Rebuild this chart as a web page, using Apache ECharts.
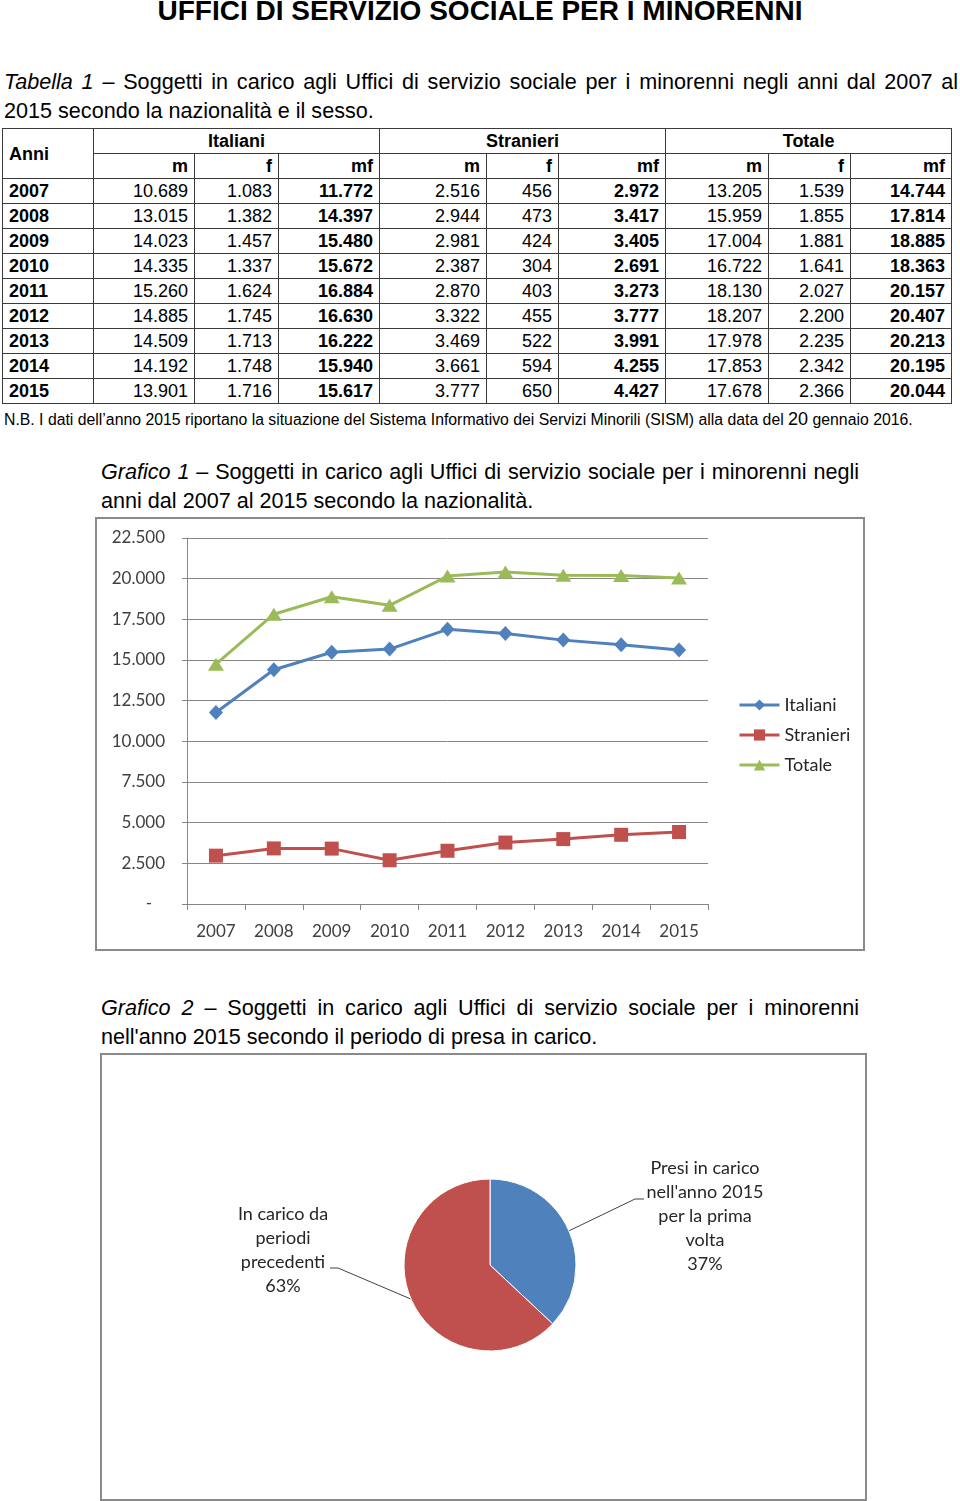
<!DOCTYPE html>
<html>
<head>
<meta charset="utf-8">
<script src="https://cdn.jsdelivr.net/npm/echarts@6/dist/echarts.min.js"></script>
<style>
html,body{margin:0;padding:0;background:#fff;}
#page{position:relative;width:960px;height:1501px;overflow:hidden;font-family:"Liberation Sans",Arial,sans-serif;color:#000;background:#fff;}
.ln{position:absolute;white-space:nowrap;}
.just{white-space:normal;text-align:justify;text-align-last:justify;}
#title{left:0;width:960px;text-align:center;top:-4px;font-size:28px;line-height:30px;font-weight:bold;}
.cap{font-size:21.6px;line-height:24px;}
#tbl{position:absolute;left:2px;top:128px;border-collapse:collapse;table-layout:fixed;width:949px;font-size:18px;}
#tbl td,#tbl th{border:1.5px solid #3a3a3a;height:24px;padding:0 6px;line-height:20px;overflow:hidden;white-space:nowrap;}
#tbl th{font-weight:bold;text-align:right;}
#tbl th.c{text-align:center;}
#tbl th.l{text-align:left;}
#tbl td{text-align:right;}
#tbl td.y{text-align:left;font-weight:bold;}
#tbl td.b{font-weight:bold;}
#nb{left:4px;top:410px;font-size:15.8px;line-height:18px;}
.box{position:absolute;box-sizing:border-box;border:2px solid #8a8a8a;}
#c1{left:95px;top:517px;width:770px;height:434px;}
#c2{left:100px;top:1053px;width:767px;height:448px;}
</style>
</head>
<body>
<div id="page">
  <div class="ln" id="title">UFFICI DI SERVIZIO SOCIALE PER I MINORENNI</div>
  <div class="ln cap just" style="left:4px;top:70px;width:954px;"><i>Tabella 1</i> – Soggetti in carico agli Uffici di servizio sociale per i minorenni negli anni dal 2007 al</div>
  <div class="ln cap" style="left:4px;top:99px;">2015 secondo la nazionalità e il sesso.</div>
  <table id="tbl">
    <colgroup id="cols"></colgroup>
    <thead id="thead"></thead>
    <tbody id="tbody"></tbody>
  </table>
  <div class="ln" id="nb">N.B. I dati dell’anno 2015 riportano la situazione del Sistema Informativo dei Servizi Minorili (SISM) alla data del <span style="font-size:18px">20</span> gennaio 2016.</div>
  <div class="ln cap just" style="left:101px;top:460px;width:758px;"><i>Grafico 1</i> – Soggetti in carico agli Uffici di servizio sociale per i minorenni negli</div>
  <div class="ln cap" style="left:101px;top:489px;">anni dal 2007 al 2015 secondo la nazionalità.</div>
  <div class="box" id="c1"></div>
  <div class="ln cap just" style="left:101px;top:996px;width:758px;"><i>Grafico 2</i> – Soggetti in carico agli Uffici di servizio sociale per i minorenni</div>
  <div class="ln cap" style="left:101px;top:1025px;">nell'anno 2015 secondo il periodo di presa in carico.</div>
  <div class="box" id="c2"></div>
</div>
<script>
// ---------- DATA ----------
const years = ['2007','2008','2009','2010','2011','2012','2013','2014','2015'];
const italianiM  = [10689,13015,14023,14335,15260,14885,14509,14192,13901];
const italianiF  = [1083,1382,1457,1337,1624,1745,1713,1748,1716];
const italianiMF = [11772,14397,15480,15672,16884,16630,16222,15940,15617];
const stranieriM  = [2516,2944,2981,2387,2870,3322,3469,3661,3777];
const stranieriF  = [456,473,424,304,403,455,522,594,650];
const stranieriMF = [2972,3417,3405,2691,3273,3777,3991,4255,4427];
const totaleM  = [13205,15959,17004,16722,18130,18207,17978,17853,17678];
const totaleF  = [1539,1855,1881,1641,2027,2200,2235,2342,2366];
const totaleMF = [14744,17814,18885,18363,20157,20407,20213,20195,20044];
const groupNames = ['Italiani','Stranieri','Totale'];
const subNames = ['m','f','mf'];
const pieNames = ["Presi in carico\nnell'anno 2015\nper la prima\nvolta", "In carico da\nperiodi\nprecedenti"];
const pieValues = [37, 63];

// ---------- TABLE ----------
function fmt(n){ return String(n).replace(/\B(?=(\d{3})+(?!\d))/g, '.'); }
const colWidths = [91,101,84,101,107,72,107,103,82,101];
document.getElementById('cols').innerHTML = colWidths.map(w => '<col style="width:'+w+'px">').join('');
let h = '<tr><th class="l" rowspan="2">Anni</th>' + groupNames.map(g => '<th class="c" colspan="3">'+g+'</th>').join('') + '</tr>';
h += '<tr>' + groupNames.map(() => subNames.map(s => '<th>'+s+'</th>').join('')).join('') + '</tr>';
document.getElementById('thead').innerHTML = h;
const cols = [italianiM,italianiF,italianiMF,stranieriM,stranieriF,stranieriMF,totaleM,totaleF,totaleMF];
let b = '';
years.forEach((y,i) => {
  b += '<tr><td class="y">'+y+'</td>';
  cols.forEach((c,j) => { b += '<td'+(j%3===2?' class="b"':'')+'>'+fmt(c[i])+'</td>'; });
  b += '</tr>';
});
document.getElementById('tbody').innerHTML = b;

// ---------- CHART 1 ----------
const FONT = 'Lato';
const AX = '#868686';
const c1 = echarts.init(document.getElementById('c1'));
c1.setOption({
  animation:false,
  color:['#4F81BD','#C0504D','#9BBB59'],
  grid:{left:90, right:155, top:19, bottom:45, containLabel:false},
  legend:{
    orient:'vertical', left:636, top:172, itemGap:12, itemWidth:40, itemHeight:14,
    lineStyle:{width:3},
    textStyle:{fontFamily:FONT, fontSize:18, color:'#262626'},
    data:groupNames
  },
  xAxis:{
    type:'category', data:years, boundaryGap:true,
    axisLine:{lineStyle:{color:AX, width:1}},
    axisTick:{show:true, length:6, lineStyle:{color:AX}},
    axisLabel:{fontFamily:FONT, fontSize:17, color:'#404040', margin:19}
  },
  yAxis:{
    type:'value', min:0, max:22500, interval:2500,
    axisLine:{show:true, lineStyle:{color:AX, width:1}},
    axisTick:{show:true, length:5, lineStyle:{color:AX}},
    splitLine:{lineStyle:{color:AX, width:1}},
    axisLabel:{fontFamily:FONT, fontSize:17, color:'#404040', margin:22,
      formatter: v => v === 0 ? '-   ' : fmt(v)}
  },
  series:[
    {name:'Italiani', type:'line', data:italianiMF, symbol:'diamond', symbolSize:[14,15], lineStyle:{width:3}, itemStyle:{color:'#4F81BD'}},
    {name:'Stranieri', type:'line', data:stranieriMF, symbol:'rect', symbolSize:[14,14], lineStyle:{width:3}, itemStyle:{color:'#C0504D'}},
    {name:'Totale', type:'line', data:totaleMF, symbol:'triangle', symbolSize:[16,13], lineStyle:{width:3}, itemStyle:{color:'#9BBB59'}}
  ]
});

// ---------- CHART 2 ----------
const pieLabelPos = [{x:603, y:161}, {x:181, y:195}];
const pieLineEnds = [[[533,144],[542,144]], [[236,213],[228,213]]];
const c2 = echarts.init(document.getElementById('c2'));
c2.setOption({
  animation:false,
  series:[{
    type:'pie', center:[388,210], radius:86, startAngle:90, clockwise:true,
    avoidLabelOverlap:false,
    data: pieNames.map((n,i) => ({name:n, value:pieValues[i], itemStyle:{color: i===0 ? '#4F81BD' : '#C0504D'}})),
    itemStyle:{borderColor:'#ffffff', borderWidth:1},
    label:{show:true, position:'outside', formatter: p => p.name + '\n' + p.value + '%',
      fontFamily:FONT, fontSize:18, lineHeight:24, color:'#262626', align:'center'},
    labelLine:{show:true, length:10, length2:10, smooth:false, lineStyle:{color:'#404040', width:1}},
    emphasis:{disabled:true},
    labelLayout: function(params){
      const i = params.dataIndex;
      const res = {x:pieLabelPos[i].x, y:pieLabelPos[i].y, align:'center', verticalAlign:'middle'};
      const pts = params.labelLinePoints;
      if (pts && pts.length) res.labelLinePoints = [pts[0], pieLineEnds[i][0], pieLineEnds[i][1]];
      return res;
    }
  }]
});
</script>
</body>
</html>
